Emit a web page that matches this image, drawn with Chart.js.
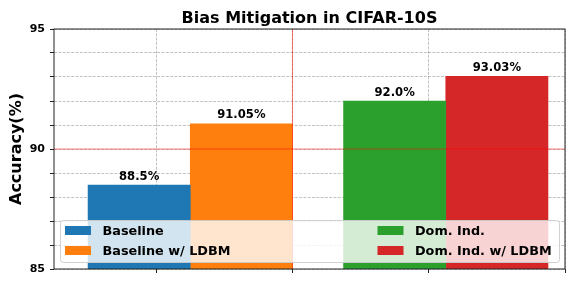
<!DOCTYPE html>
<html>
<head>
<meta charset="utf-8">
<script src="https://cdn.jsdelivr.net/npm/chart.js@4/dist/chart.umd.min.js"></script>
<style>
  html, body { margin: 0; padding: 0; background: #fff; }
</style>
</head>
<body>
<canvas id="chart" width="576" height="288"></canvas>
<script>
const chartTitle = "Bias Mitigation in CIFAR-10S";
const methods = ["Baseline", "Baseline w/ LDBM", "Dom. Ind.", "Dom. Ind. w/ LDBM"];
const accuracy = [88.5, 91.05, 92.0, 93.03];
const barCenters = [0.875, 1.625, 2.75, 3.5];
const xTicks = [1, 2, 3, 4];
const yTicks = [85, 86, 87, 88, 89, 90, 91, 92, 93, 94, 95];
const yLabels = [85, 90, 95];
const refX = 2;
const refY = 90;
const colors = ["#1f77b4", "#ff7f0e", "#2ca02c", "#d62728"];

const FONT = "DejaVu Sans";
Chart.defaults.font.family = FONT;
Chart.defaults.color = "#000";

function formatValue(v) {
  return (Number.isInteger(v) ? v.toFixed(1) : String(v)) + "%";
}

const overlay = {
  id: "overlay",
  afterDraw(chart) {
    const { ctx, chartArea, scales } = chart;
    const { left, right, top, bottom } = chartArea;
    ctx.save();

    // title, centred over the axes
    ctx.fillStyle = "#000";
    ctx.font = "bold 16px '" + FONT + "'";
    ctx.textAlign = "center";
    ctx.textBaseline = "alphabetic";
    ctx.fillText(chartTitle, (left + right) / 2, top - 6.3);

    // reference lines
    ctx.strokeStyle = "rgba(255, 0, 0, 0.5)";
    ctx.lineWidth = 1;
    ctx.setLineDash([]);
    const vx = scales.x.getPixelForValue(refX);
    const hy = scales.y.getPixelForValue(refY);
    ctx.beginPath();
    ctx.moveTo(vx, top);
    ctx.lineTo(vx, bottom);
    ctx.moveTo(left, hy);
    ctx.lineTo(right, hy);
    ctx.stroke();

    // value labels
    ctx.fillStyle = "#000";
    ctx.font = "bold 11.6px '" + FONT + "'";
    chart.data.datasets.forEach((ds, i) => {
      const bar = chart.getDatasetMeta(i).data[0];
      ctx.fillText(formatValue(ds.data[0].y), bar.x, bar.y - 5.5);
    });

    // frame
    ctx.strokeStyle = "#222";
    ctx.lineWidth = 1;
    ctx.strokeRect(left, top, right - left, bottom - top);

    // legend (two columns, column-major)
    const bx = left + 6.5, by = bottom - 48.5, bw = right - left - 12, bh = 42;
    ctx.beginPath();
    ctx.roundRect(bx, by, bw, bh, 3);
    ctx.fillStyle = "rgba(255, 255, 255, 0.8)";
    ctx.fill();
    ctx.strokeStyle = "rgba(204, 204, 204, 0.9)";
    ctx.stroke();

    const colX = [bx + 4.5, bx + 317];
    const rowBase = [by + 14.5, by + 34.5];
    ctx.font = "bold 12.8px '" + FONT + "'";
    ctx.textAlign = "left";
    chart.data.datasets.forEach((ds, i) => {
      const cx = colX[Math.floor(i / 2)];
      const base = rowBase[i % 2];
      ctx.fillStyle = ds.backgroundColor;
      ctx.fillRect(cx, base - 9, 26, 9);
      ctx.fillStyle = "#000";
      ctx.fillText(ds.label, cx + 37.5, base);
    });

    ctx.restore();
  }
};

new Chart(document.getElementById("chart"), {
  type: "bar",
  data: {
    datasets: methods.map((name, i) => ({
      label: name,
      data: [{ x: barCenters[i], y: accuracy[i] }],
      backgroundColor: colors[i],
      borderWidth: 0,
      grouped: false,
      barPercentage: 1,
      categoryPercentage: 1
    }))
  },
  options: {
    responsive: false,
    animation: false,
    devicePixelRatio: 1,
    layout: { padding: { left: 0, right: 11, top: 29, bottom: 0 } },
    plugins: {
      legend: { display: false },
      tooltip: { enabled: false },
      title: { display: false }
    },
    scales: {
      x: {
        type: "linear",
        min: 0.25,
        max: 4,
        offset: false,
        z: 1,
        afterBuildTicks(scale) {
          scale.ticks = xTicks.map((v) => ({ value: v }));
        },
        afterFit(scale) {
          scale.height = 19;
        },
        ticks: { display: false },
        grid: {
          offset: false,
          color: "rgba(0, 0, 0, 0.3)",
          lineWidth: 0.8,
          tickLength: 4,
          tickColor: "#222",
          tickWidth: 1
        },
        border: { display: false, dash: [3, 1.3] }
      },
      y: {
        min: 85,
        max: 95,
        z: 1,
        afterBuildTicks(scale) {
          scale.ticks = yTicks.map((v) => ({ value: v }));
        },
        afterFit(scale) {
          scale.width = 54;
        },
        ticks: {
          autoSkip: false,
          padding: 5,
          color: "#000",
          font: { size: 11, weight: "bold" },
          callback: (v) => (yLabels.includes(v) ? String(v) : "")
        },
        grid: {
          color: "rgba(0, 0, 0, 0.3)",
          lineWidth: 0.8,
          tickLength: 4,
          tickColor: "#222",
          tickWidth: 1
        },
        border: { display: false, dash: [3, 1.3] },
        title: {
          display: true,
          text: "Accuracy(%)",
          color: "#000",
          font: { size: 16, weight: "bold" },
          padding: { top: 7.4, bottom: 0 }
        }
      }
    }
  },
  plugins: [overlay]
});
</script>
</body>
</html>
